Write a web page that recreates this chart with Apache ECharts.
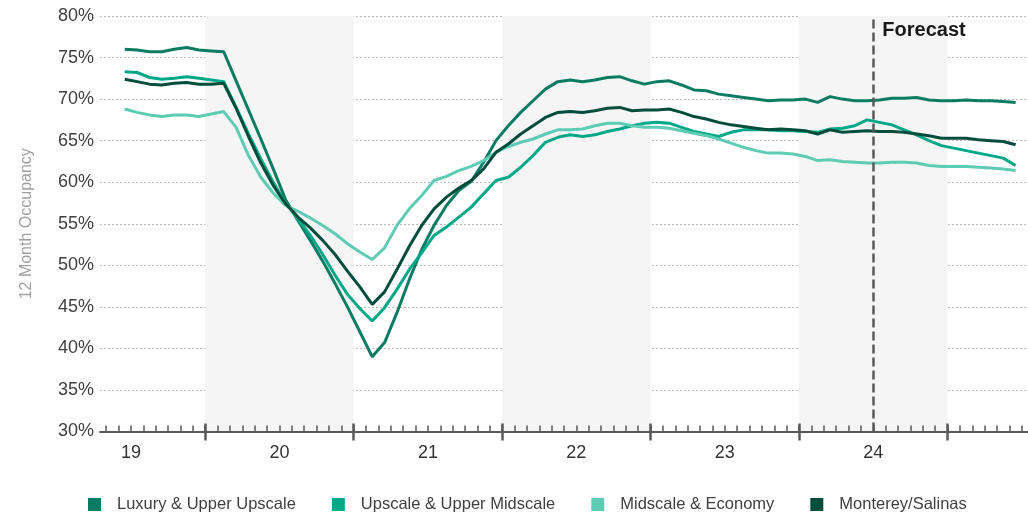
<!DOCTYPE html>
<html>
<head>
<meta charset="utf-8">
<script src="https://cdn.jsdelivr.net/npm/echarts@6/dist/echarts.min.js"></script>
<style>
  html, body { margin: 0; padding: 0; background: #fff; }
  #chart { width: 1028px; height: 516px; }
</style>
</head>
<body>
<div id="chart"></div>
<script>
// monthly 12-month occupancy, Jun 2019 .. Jun 2025
var firstMonth = '2019-06';
var yearLabels = ['19', '20', '21', '22', '23', '24'];
var shadedYears = [2020, 2022, 2024];
var forecastStart = '2024-07';
var seriesNames = ['Luxury & Upper Upscale', 'Upscale & Upper Midscale', 'Midscale & Economy', 'Monterey/Salinas'];
var seriesColors = ['#0b7b63', '#00a887', '#5ecbb4', '#004d3c'];

var luxury = [
    76.0, 75.9, 75.7, 75.7, 76.0, 76.2, 75.9, 75.8, 75.7,
    72.2, 68.7, 65.2, 61.6, 57.9, 55.4, 53.0, 50.5, 47.8, 45.0, 42.0, 39.0,
    40.7, 44.3, 48.3, 51.9, 54.8, 57.2, 59.0, 60.1, 62.4, 65.0, 66.8, 68.4, 69.8, 71.2, 72.1, 72.3, 72.1, 72.3, 72.6, 72.7, 72.2, 71.8, 72.1,
    72.2, 71.7, 71.1, 71.0, 70.6, 70.4, 70.2, 70.0, 69.8, 69.9, 69.9, 70.0, 69.6, 70.3,
    70.0, 69.8, 69.8, 69.9, 70.1, 70.1, 70.2, 69.9, 69.8, 69.8, 69.9, 69.8, 69.8, 69.7, 69.6
];
var upscale = [
    73.3, 73.2, 72.6, 72.4, 72.5, 72.7, 72.5, 72.3, 72.1,
    69.0, 65.8, 62.8, 60.0, 57.5, 55.6, 53.6, 51.3, 48.8, 46.5, 44.8, 43.3,
    44.9, 47.1, 49.5, 51.5, 53.6, 54.6, 55.8, 57.0, 58.6, 60.2, 60.6, 61.8, 63.2, 64.8, 65.4, 65.7, 65.5, 65.7, 66.1, 66.4, 66.8, 67.1, 67.2,
    67.1, 66.6, 66.1, 65.8, 65.5, 66.0, 66.3, 66.3, 66.3, 66.2, 66.2, 66.1, 66.0, 66.4,
    66.5, 66.8, 67.5, 67.2, 66.9, 66.3, 65.7, 65.0, 64.4, 64.1, 63.8, 63.5, 63.2, 62.9, 62.0
];
var midscale = [
    68.8, 68.4, 68.1, 67.9, 68.1, 68.1, 67.9, 68.2, 68.5,
    66.6, 63.2, 60.6, 58.7, 57.2, 56.5, 55.7, 54.8, 53.8, 52.6, 51.6, 50.7,
    52.1, 54.8, 56.8, 58.4, 60.2, 60.7, 61.4, 61.9, 62.6, 63.6, 64.3, 64.8, 65.2, 65.8, 66.3, 66.3, 66.4, 66.8, 67.1, 67.1, 66.8, 66.6, 66.6,
    66.5, 66.2, 65.9, 65.6, 65.2, 64.7, 64.2, 63.8, 63.5, 63.5, 63.4, 63.1, 62.6, 62.7,
    62.5, 62.4, 62.3, 62.3, 62.4, 62.4, 62.3, 62.0, 61.9, 61.9, 61.9, 61.8, 61.7, 61.6, 61.4
];
var monterey = [
    72.4, 72.1, 71.8, 71.7, 71.9, 72.0, 71.8, 71.8, 71.9,
    68.9, 65.5, 62.3, 59.6, 57.4, 55.8, 54.5, 53.0, 51.3, 49.3, 47.4, 45.3,
    46.8, 49.5, 52.3, 54.8, 56.8, 58.2, 59.3, 60.2, 61.6, 63.6, 64.6, 65.8, 66.8, 67.8, 68.4, 68.5, 68.4, 68.6, 68.9, 69.0, 68.6, 68.7, 68.7,
    68.8, 68.4, 67.9, 67.6, 67.2, 66.9, 66.7, 66.5, 66.3, 66.4, 66.3, 66.2, 65.8, 66.3,
    66.0, 66.1, 66.2, 66.1, 66.1, 66.0, 65.8, 65.6, 65.3, 65.3, 65.3, 65.1, 65.0, 64.9, 64.5
];

(function(){
    var chartDom = document.getElementById('chart');
    var myChart = echarts.init(chartDom);
    var font = '"Liberation Sans", Arial, sans-serif';

    // months counted from Jan 2019
    function monthPos(str){
        var p = str.split('-');
        return (parseInt(p[0], 10) - 2019) * 12 + (parseInt(p[1], 10) - 1);
    }
    var start = monthPos(firstMonth);

    function toPoints(values){
        return values.map(function(v, i){
            return [start + i + 0.5, v];   // mid-month
        });
    }

    var monthTicks = [], yearTicks = [], labelPos = [];
    for (var m = 4; m <= 78; m++) monthTicks.push(m);
    for (var y = 1; y <= 6; y++) yearTicks.push(y * 12);
    yearLabels.forEach(function(l, i){ labelPos.push(i * 12 + 6); });

    var bands = shadedYears.map(function(yr){
        return [{ xAxis: (yr - 2019) * 12 }, { xAxis: (yr - 2019) * 12 + 12 }];
    });

    var allData = [luxury, upscale, midscale, monterey];
    var series = [{
        name: 'bands',
        type: 'line',
        data: [],
        silent: true,
        z: 0,
        markArea: {
            silent: true,
            itemStyle: { color: '#f5f5f5' },
            data: bands
        }
    }];
    allData.forEach(function(d, i){
        series.push({
            name: seriesNames[i],
            type: 'line',
            data: toPoints(d),
            showSymbol: false,
            symbol: 'none',
            color: seriesColors[i],
            lineStyle: { width: 3, color: seriesColors[i] },
            z: 3
        });
    });
    series.push({
        name: 'forecast',
        type: 'line',
        data: [],
        z: 5,
        markLine: {
            silent: true,
            symbol: 'none',
            lineStyle: { color: '#595959', width: 2.5, type: [9, 4] },
            label: {
                show: true,
                position: 'end',
                formatter: 'Forecast',
                align: 'left',
                verticalAlign: 'top',
                offset: [9, 4],
                distance: 0,
                color: '#1a1a1a',
                fontWeight: 'bold',
                fontSize: 20,
                fontFamily: font
            },
            data: [{ xAxis: monthPos(forecastStart) }]
        }
    });

    var axisBase = {
        type: 'value',
        min: 3.5,
        max: 78.5,
        position: 'bottom',
        z: 10,
        splitLine: { show: false }
    };

    var option = {
        animation: false,
        grid: { left: 100, right: 0, top: 16, bottom: 84.5, containLabel: false },
        legend: {
            data: seriesNames,
            left: 88,
            top: 496,
            padding: 0,
            icon: 'rect',
            itemWidth: 13,
            itemHeight: 13,
            itemGap: 36,
            textStyle: { fontSize: 16.5, color: '#404040', fontFamily: font, padding: [0, 0, 0, 11] }
        },
        xAxis: [
            Object.assign({}, axisBase, {
                axisLine: { show: true, lineStyle: { color: '#595959', width: 2 } },
                axisTick: {
                    show: true, customValues: monthTicks, inside: true, length: 6,
                    lineStyle: { color: '#595959', width: 1.5 }
                },
                axisLabel: {
                    customValues: labelPos,
                    margin: 13,
                    fontSize: 18,
                    color: '#333333',
                    fontFamily: font,
                    formatter: function(v){ return yearLabels[Math.round((v - 6) / 12)]; }
                }
            }),
            Object.assign({}, axisBase, {
                axisLine: { show: false },
                axisTick: {
                    show: true, customValues: yearTicks, inside: false, length: 9,
                    lineStyle: { color: '#595959', width: 2.5 }
                },
                axisLabel: { show: false }
            }),
            Object.assign({}, axisBase, {
                axisLine: { show: false },
                axisTick: {
                    show: true, customValues: yearTicks, inside: true, length: 8,
                    lineStyle: { color: '#595959', width: 2.5 }
                },
                axisLabel: { show: false }
            })
        ],
        yAxis: {
            type: 'value',
            min: 30,
            max: 80,
            interval: 5,
            name: '12 Month Occupancy',
            nameLocation: 'middle',
            nameGap: 65,
            nameTextStyle: { color: '#a0a0a0', fontSize: 16, fontFamily: font },
            axisLine: { show: false },
            axisTick: { show: false },
            axisLabel: { formatter: '{value}%', fontSize: 18, color: '#404040', margin: 6, fontFamily: font },
            splitLine: { lineStyle: { color: '#bdbdbd', type: [2, 2], width: 1 } }
        },
        series: series
    };
    myChart.setOption(option);
})();
</script>
</body>
</html>
